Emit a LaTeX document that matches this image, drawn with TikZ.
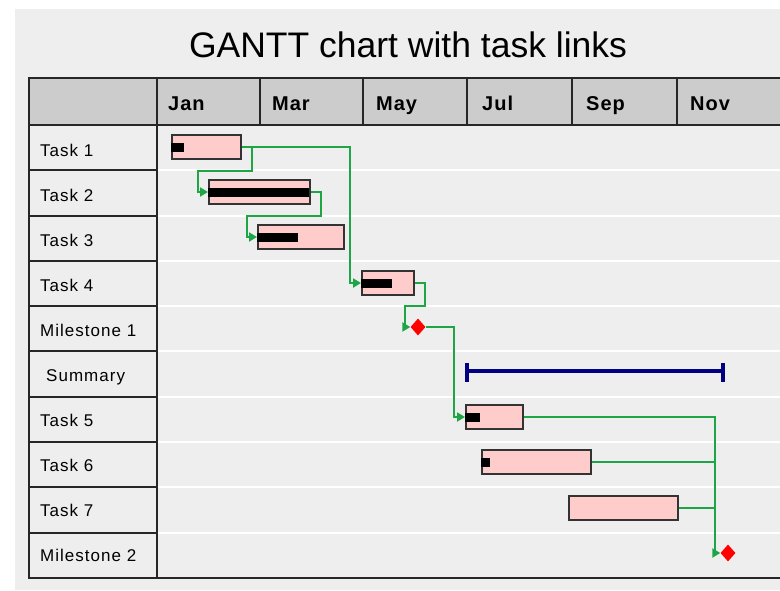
\documentclass[tikz,border=0pt]{standalone}
\usepackage{fontspec}
\setmainfont{Liberation Sans}
\usepackage{tikz}
\usetikzlibrary{positioning,shapes.geometric,arrows.meta}
\tikzset{>={Stealth[length=8pt,width=9pt,inset=0pt]}}
\definecolor{chartbg}{RGB}{238,238,238}
\definecolor{headgrey}{RGB}{204,204,204}
\definecolor{barpink}{RGB}{255,204,204}
\definecolor{linkgreen}{RGB}{30,165,70}
\definecolor{sumblue}{RGB}{0,0,128}
\tikzset{
  gridline/.style={draw=black!85, line width=1.6pt},
  rowsep/.style={draw=white, line width=2pt},
  rowlabel/.style={anchor=base west, inner sep=0pt, font=\fontsize{17}{20}\selectfont\addfontfeature{LetterSpace=6}},
  month/.style={anchor=base west, inner sep=0pt, font=\fontsize{20}{22}\selectfont\bfseries\addfontfeature{LetterSpace=5}},
  taskbar/.style={draw=black!80, fill=barpink, line width=1.5pt, minimum height=24pt, inner sep=0pt, anchor=west},
  progress/.style={fill=black, minimum height=9pt, inner sep=0pt, anchor=west},
  milestone/.style={diamond, fill=red, minimum width=15pt, minimum height=17pt, inner sep=0pt},
  link/.style={draw=linkgreen, line width=2pt},
}

\begin{document}
\begin{tikzpicture}[x=1pt,y=-1pt]
    \useasboundingbox (0,0) rectangle (780,590);
    % background and table
    \fill[chartbg] (15,9) rectangle (780,590);
    \fill[headgrey] (29,78) rectangle (780,125);
    \draw[rowsep] (157,170) -- (780,170) (157,216) -- (780,216)
        (157,261) -- (780,261) (157,306) -- (780,306)
        (157,351) -- (780,351) (157,397) -- (780,397)
        (157,442) -- (780,442) (157,487) -- (780,487)
        (157,533) -- (780,533);
    \draw[gridline] (780,78) -- (29,78) -- (29,578) -- (780,578)
        (29,125) -- (780,125) (157,78) -- (157,578)
        (260,78) -- (260,125) (363,78) -- (363,125) (467,78) -- (467,125)
        (572,78) -- (572,125) (677,78) -- (677,125);
    \draw[gridline] (29,170) -- (157,170) (29,216) -- (157,216)
        (29,261) -- (157,261) (29,306) -- (157,306)
        (29,351) -- (157,351) (29,397) -- (157,397)
        (29,442) -- (157,442) (29,487) -- (157,487)
        (29,533) -- (157,533);
    % title and header
    \node[anchor=base, inner sep=0pt, font=\fontsize{35.5}{38}\selectfont] (title) at (408,57) {GANTT chart with task links};
    \node[month] (jan) at (168,110.5) {Jan};
    \node[month] (mar) at (272,110.5) {Mar};
    \node[month] (may) at (376,110.5) {May};
    \node[month] (jul) at (482,110.5) {Jul};
    \node[month] (sep) at (586,110.5) {Sep};
    \node[month] (nov) at (690,110.5) {Nov};
    % row labels
    \node[rowlabel] (lab1) at (40,156.5) {Task 1};
    \node[rowlabel] (lab2) at (40,201.5) {Task 2};
    \node[rowlabel] (lab3) at (40,246.5) {Task 3};
    \node[rowlabel] (lab4) at (40,291.5) {Task 4};
    \node[rowlabel] (lab5) at (40,336.5) {Milestone 1};
    \node[rowlabel] (lab6) at (46,381.5) {Summary};
    \node[rowlabel] (lab7) at (40,426.5) {Task 5};
    \node[rowlabel] (lab8) at (40,471.5) {Task 6};
    \node[rowlabel] (lab9) at (40,516.5) {Task 7};
    \node[rowlabel] (lab10) at (40,561.5) {Milestone 2};
    % set up the bars
    \node[taskbar, minimum width=69pt] (t1) at (171,147) {};
    \node[taskbar, minimum width=101pt] (t2) at (208,192) {};
    \node[taskbar, minimum width=86pt] (t3) at (257,237) {};
    \node[taskbar, minimum width=52pt] (t4) at (361,283) {};
    \node[taskbar, minimum width=57pt] (t5) at (465,417) {};
    \node[taskbar, minimum width=109pt] (t6) at (481,462) {};
    \node[taskbar, minimum width=109pt] (t7) at (568,508) {};
    \node[progress, minimum width=13pt] at (t1.west) {};
    \node[progress, minimum width=101pt] at (t2.west) {};
    \node[progress, minimum width=41pt] at (t3.west) {};
    \node[progress, minimum width=31pt] at (t4.west) {};
    \node[progress, minimum width=15pt] at (t5.west) {};
    \node[progress, minimum width=9pt] at (t6.west) {};
    \node[milestone] (m1) at (418,327) {};
    \node[milestone] (m2) at (728,553) {};
    % summary bar
    \draw[sumblue, line width=4pt] (467,363) -- (467,382) (467,371) -- (723,371) (723,363) -- (723,382);
    % draw the links between them
    \coordinate (join) at (715,553);
    \draw[link,->] (t1.east) -- ++(10,0) |- (198,171) |- (t2.west);
    \draw[link,->] (t1.east) -| (350,283) -- (t4.west);
    \draw[link,->] (t2.east) -- ++(10,0) |- (247,216) |- (t3.west);
    \draw[link,->] (t4.east) -- ++(10,0) |- (405,306) |- (m1.west);
    \draw[link,->] (m1.east) -| (454,417) -- (t5.west);
    \draw[link,->] (t5.east) -| (join) -- (m2.west);
    \draw[link] (t6.east) -- (t6.east -| join);
    \draw[link] (t7.east) -- (t7.east -| join);
\end{tikzpicture}
\end{document}
